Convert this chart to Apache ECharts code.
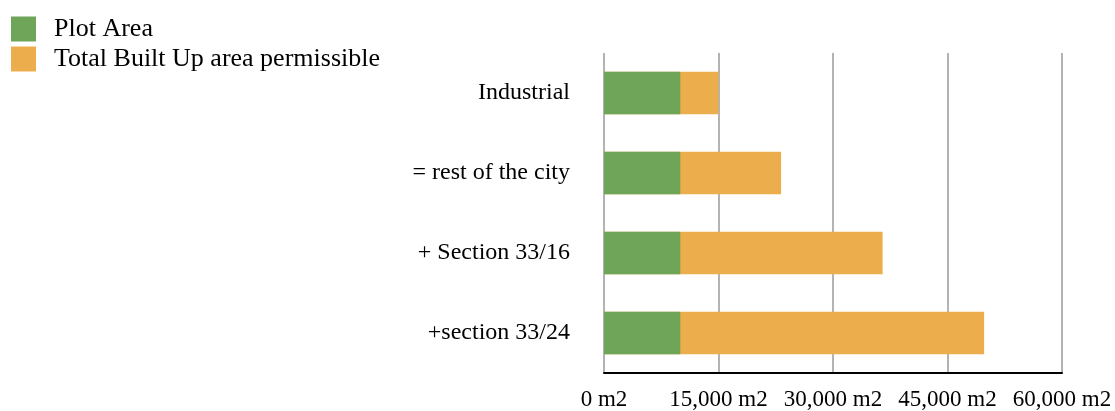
<!DOCTYPE html>
<html>
<head>
<meta charset="utf-8">
<script src="https://cdn.jsdelivr.net/npm/echarts@6/dist/echarts.min.js"></script>
<style>
  html, body { margin: 0; padding: 0; background: #ffffff; }
  #chart { width: 1115px; height: 411px; }
</style>
</head>
<body>
<div id="chart"></div>
<script>
// Plot area vs. total permissible built-up area per zoning case (m2)
const categories = ['Industrial', '= rest of the city', '+ Section 33/16', '+section 33/24'];
const plotArea = [10000, 10000, 10000, 10000];
const totalBuiltUp = [15000, 23200, 36500, 49800];
const axisTicks = [0, 15000, 30000, 45000, 60000];

const FONT = '"Liberation Serif", "Times New Roman", serif';

const chart = echarts.init(document.getElementById('chart'), null, { renderer: 'canvas' });

chart.setOption({
  animation: false,
  backgroundColor: '#ffffff',
  legend: {
    orient: 'vertical',
    left: 6,
    top: 11,
    itemWidth: 25,
    itemHeight: 25,
    itemGap: 4,
    icon: 'rect',
    data: ['Plot Area', 'Total Built Up area permissible'],
    textStyle: { fontFamily: FONT, fontSize: 26, lineHeight: 25, color: '#000000', padding: [0, 0, 0, 13] }
  },
  grid: { left: 604, right: 53, top: 53, bottom: 35, containLabel: false },
  xAxis: {
    type: 'value',
    min: axisTicks[0],
    max: axisTicks[axisTicks.length - 1],
    interval: axisTicks[1] - axisTicks[0],
    axisLine: { show: true, lineStyle: { color: '#000000', width: 2 } },
    axisTick: { show: false },
    splitLine: { show: true, lineStyle: { color: '#b3b3b3', width: 2 } },
    axisLabel: {
      margin: 15,
      fontFamily: FONT,
      fontSize: 23,
      color: '#000000',
      formatter: v => v.toLocaleString('en-US') + ' m2'
    }
  },
  yAxis: {
    type: 'category',
    data: categories,
    inverse: true,
    axisLine: { show: false },
    axisTick: { show: false },
    splitLine: { show: false },
    axisLabel: { margin: 34, fontFamily: FONT, fontSize: 24, color: '#000000' }
  },
  series: [
    {
      name: 'Plot Area',
      type: 'bar',
      data: plotArea,
      barWidth: '53%',
      barGap: '-100%',
      z: 3,
      itemStyle: { color: '#6ea558' }
    },
    {
      name: 'Total Built Up area permissible',
      type: 'bar',
      data: totalBuiltUp,
      barWidth: '53%',
      barGap: '-100%',
      z: 2,
      itemStyle: { color: '#ecae4c' }
    }
  ]
});
</script>
</body>
</html>
